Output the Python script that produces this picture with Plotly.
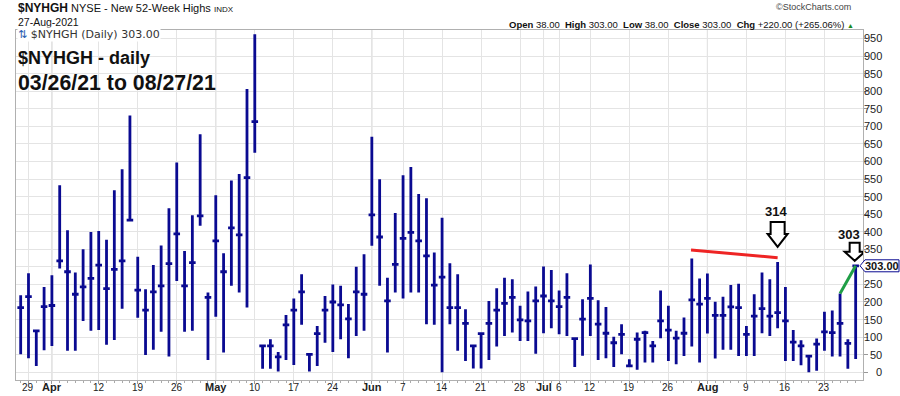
import plotly.graph_objects as go
import pandas as pd

# ---------------- data ----------------
HOLIDAYS = ["2021-04-02", "2021-05-31", "2021-07-05"]
trade_days = [d for d in pd.bdate_range("2021-03-26", "2021-08-27")
              if d.strftime("%Y-%m-%d") not in HOLIDAYS]

high = [219, 282, 118, 243, 276, 532, 404, 284, 350, 399,
        402, 377, 518, 578, 731, 329, 236, 305, 361, 467,
        597, 345, 447, 677, 227, 504, 339, 546, 564, 806,
        962, 75, 94, 58, 163, 210, 279, 51, 132, 217,
        250, 246, 194, 300, 336, 670, 549, 269, 453, 561,
        584, 507, 495, 341, 440, 310, 279, 179, 75, 110,
        203, 239, 269, 265, 189, 230, 244, 301, 291, 233,
        282, 96, 208, 307, 205, 186, 101, 137, 37, 113,
        118, 89, 233, 189, 118, 156, 324, 267, 281, 201,
        215, 248, 252, 132, 222, 284, 265, 314, 243, 120,
        91, 46, 96, 172, 176, 224, 94, 303]
low = [51, 40, 18, 63, 75, 295, 61, 61, 146, 118,
       120, 78, 92, 181, 433, 155, 49, 64, 115, 45,
       260, 115, 118, 417, 35, 158, 56, 246, 227, 184,
       625, 10, 10, 2, 35, 21, 135, 2, 18, 84,
       58, 94, 40, 103, 118, 360, 246, 56, 227, 210,
       227, 227, 137, 135, 0, 137, 61, 32, 11, 11,
       35, 73, 103, 113, 89, 89, 53, 111, 125, 108,
       103, 15, 47, 103, 35, 40, 15, 51, 15, 7,
       28, 28, 97, 32, 23, 46, 73, 28, 110, 39,
       64, 64, 46, 46, 46, 111, 103, 125, 32, 32,
       20, 0, 4, 61, 45, 45, 10, 38]
close = [184, 215, 118, 187, 190, 317, 286, 222, 243, 267,
         305, 238, 293, 317, 433, 234, 177, 229, 246, 309,
         394, 246, 312, 445, 213, 374, 286, 411, 391, 554,
         713, 75, 75, 44, 135, 177, 229, 51, 110, 177,
         200, 192, 152, 229, 222, 448, 385, 203, 307, 381,
         398, 374, 331, 248, 271, 184, 184, 139, 75, 110,
         139, 177, 196, 213, 149, 146, 203, 217, 203, 187,
         213, 96, 151, 210, 137, 111, 84, 108, 18, 94,
         113, 75, 146, 120, 97, 111, 206, 194, 210, 162,
         162, 186, 184, 108, 160, 181, 160, 170, 146, 86,
         75, 46, 80, 115, 113, 139, 82, 303]
y_ticks = list(range(0, 951, 50))

# annotation anchors (analyst drawings)
RED_LINE = [(85.9, 348), (97.0, 326)]
GREEN_FROM, GREEN_TO = 105, 107
PEAK_AUG, LAST_BAR = 97, 107

NAVY = "#0a0a91"
FONT = "Liberation Sans, Arial, sans-serif"

# ---------------- geometry helpers (paper coords) ----------------
L, R, T, B = 16, 863, 30, 380
W, H = R - L, B - T
def px(x): return (x - L) / W
def py(y): return (B - y) / H

n = len(trade_days)
idx = list(range(n))

tickvals, ticktext, month_starts = [], [], []
for i in range(1, n):
    d, prev = trade_days[i], trade_days[i - 1]
    if d.month != prev.month:
        tickvals.append(i); ticktext.append("<b>%s</b>" % d.strftime("%b")); month_starts.append(i)
    elif d.weekday() < prev.weekday():
        if month_starts and i - month_starts[-1] <= 1:
            continue
        tickvals.append(i); ticktext.append(str(d.day))

fig = go.Figure(go.Ohlc(
    x=idx, open=close, high=high, low=low, close=close,
    increasing=dict(line=dict(color=NAVY, width=2.8)),
    decreasing=dict(line=dict(color=NAVY, width=2.8)),
    tickwidth=0.42, hoverinfo="skip", showlegend=False))

shapes = []
for m in month_starts:
    shapes.append(dict(type="line", xref="x", yref="paper", x0=m, x1=m, y0=0, y1=1,
                       line=dict(color="#c6c6c6", width=1), layer="below"))
shapes.append(dict(type="line", xref="x", yref="y",
                   x0=RED_LINE[0][0], y0=RED_LINE[0][1], x1=RED_LINE[1][0], y1=RED_LINE[1][1],
                   line=dict(color="#ee2424", width=3)))
shapes.append(dict(type="line", xref="x", yref="y",
                   x0=GREEN_FROM, y0=high[GREEN_FROM], x1=GREEN_TO, y1=high[GREEN_TO],
                   line=dict(color="#1f9e46", width=3)))
# hollow down arrows
shapes.append(dict(type="path", xref="x", yref="y", xsizemode="pixel", ysizemode="pixel",
                   xanchor=PEAK_AUG, yanchor=high[PEAK_AUG],
                   path="M 0,15 L -10,28 L -7,28 L -7,40 L 7,40 L 7,28 L 10,28 Z",
                   line=dict(color="black", width=2), fillcolor="white"))
shapes.append(dict(type="path", xref="x", yref="y", xsizemode="pixel", ysizemode="pixel",
                   xanchor=LAST_BAR, yanchor=high[LAST_BAR],
                   path="M -1,5 L -11,14 L -6,14 L -6,23 L 4,23 L 4,14 L 9,14 Z",
                   line=dict(color="black", width=2), fillcolor="white"))
# price tag box with pointer
shapes.append(dict(type="path", xref="paper", yref="y", xsizemode="pixel", ysizemode="pixel",
                   xanchor=1, yanchor=close[-1],
                   path="M -3,0 L 2,-6 L 36,-6 L 36,6 L 2,6 Z",
                   line=dict(color=NAVY, width=1), fillcolor="white"))

ann = []
# y-axis labels (right aligned, as in the reference)
for v in y_ticks:
    if abs(v - close[-1]) < 15:
        continue  # hidden behind the price tag
    ann.append(dict(xref="paper", yref="y", x=px(883.5), y=v, xanchor="right", yanchor="middle",
                    text=str(v), showarrow=False, font=dict(family=FONT, size=11, color="#222")))
# x-axis labels
for tv, tt in zip(tickvals, ticktext):
    ann.append(dict(xref="x", yref="paper", x=tv, y=py(387), xanchor="center", yanchor="middle",
                    text=tt, showarrow=False,
                    font=dict(family=FONT, size=11 if tt.startswith("<b>") else 10, color="#222")))
ann.append(dict(xref="paper", yref="y", x=px(864), y=close[-1], xanchor="left", yanchor="middle",
                text="<b>%.2f</b>" % close[-1], showarrow=False, borderpad=0,
                font=dict(family=FONT, size=11, color="#111")))
ann.append(dict(xref="paper", yref="paper", x=px(16), y=py(8), xanchor="left", yanchor="middle",
                showarrow=False, font=dict(family=FONT, size=11, color="#111"),
                text="<span style='font-size:12px'><b>$NYHGH</b></span> NYSE - New 52-Week Highs "
                     "<span style='font-size:8px'>INDX</span>"))
ann.append(dict(xref="paper", yref="paper", x=px(16), y=py(22), xanchor="left", yanchor="middle",
                showarrow=False, font=dict(family=FONT, size=10.5, color="#111"), text="27-Aug-2021"))
ann.append(dict(xref="paper", yref="paper", x=px(853), y=py(7), xanchor="right", yanchor="middle",
                showarrow=False, font=dict(family=FONT, size=9, color="#444"), text="©StockCharts.com"))
ann.append(dict(xref="paper", yref="paper", x=px(856), y=py(24), xanchor="right", yanchor="middle",
                showarrow=False, font=dict(family=FONT, size=9.5, color="#111"),
                text="<b>Open</b> 38.00&nbsp; <b>High</b> 303.00&nbsp; <b>Low</b> 38.00&nbsp; "
                     "<b>Close</b> 303.00&nbsp; <b>Chg</b> +220.00 (+265.06%) "
                     "<span style='color:#1a8a1a;font-size:7px'>▲</span>"))
ann.append(dict(xref="paper", yref="paper", x=px(17), y=py(35), xanchor="left", yanchor="middle",
                showarrow=False, bgcolor="white", borderpad=0,
                font=dict(family="DejaVu Sans, sans-serif", size=11, color="#333"),
                text="<span style='color:#2a5db0'>⇅</span> $NYHGH (Daily) 303.00"))
ann.append(dict(xref="paper", yref="paper", x=px(16), y=py(58), xanchor="left", yanchor="middle",
                showarrow=False, font=dict(family=FONT, size=18, color="#111"),
                text="<b>$NYHGH - daily</b>"))
ann.append(dict(xref="paper", yref="paper", x=px(16), y=py(83), xanchor="left", yanchor="middle",
                showarrow=False, font=dict(family=FONT, size=21.3, color="#111"),
                text="<b>03/26/21 to 08/27/21</b>"))
ann.append(dict(xref="x", yref="y", x=PEAK_AUG, y=high[PEAK_AUG], xshift=-2, yshift=50,
                showarrow=False, font=dict(family=FONT, size=13, color="#111"),
                text="<b>%d</b>" % high[PEAK_AUG]))
ann.append(dict(xref="x", yref="y", x=LAST_BAR, y=high[LAST_BAR], xshift=-7, yshift=31,
                showarrow=False, font=dict(family=FONT, size=13, color="#111"),
                text="<b>%d</b>" % high[LAST_BAR]))

fig.update_layout(
    width=900, height=396, margin=dict(l=L, r=900 - R, t=T, b=396 - B, autoexpand=False),
    paper_bgcolor="white", plot_bgcolor="white", template="none",
    shapes=shapes, annotations=ann, showlegend=False,
    xaxis=dict(type="linear", range=[-0.6, 107.94], tickvals=tickvals, showticklabels=False,
               showgrid=True, gridcolor="#e4e4e4", gridwidth=1, zeroline=False,
               showline=True, linecolor="#b0b0b0", mirror=True,
               ticks="outside", ticklen=3, tickcolor="#999",
               minor=dict(dtick=1, tick0=0, ticks="outside", ticklen=2, tickcolor="#aaa", showgrid=False),
               rangeslider=dict(visible=False), automargin=False, fixedrange=True),
    yaxis=dict(side="right", range=[-22, 974], dtick=50, tick0=0, showgrid=True,
               gridcolor="#e4e4e4", zeroline=False, showticklabels=False,
               showline=True, linecolor="#b0b0b0", mirror=True,
               ticks="outside", ticklen=4, tickcolor="#999", automargin=False, fixedrange=True),
)

fig.write_html("out.html", config={"displayModeBar": False},
               post_script="document.body.style.margin='0px';")
